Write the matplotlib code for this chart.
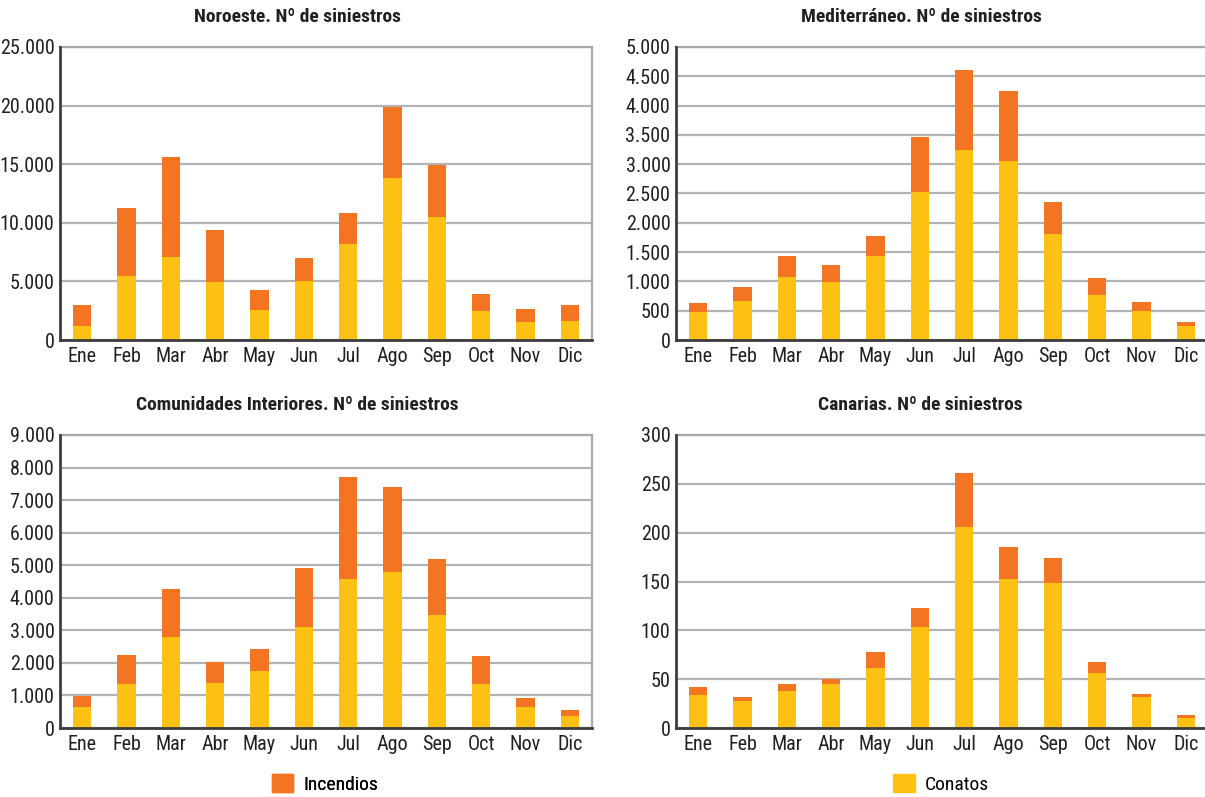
import matplotlib
matplotlib.use("Agg")
import matplotlib.pyplot as plt
import matplotlib.ticker as mticker
from matplotlib import font_manager
from matplotlib.patches import Patch
import numpy as np

# ── Fonts: pick a condensed family if one is installed ───────────────────────
available = {f.name for f in font_manager.fontManager.ttflist}
FONT = "DejaVu Sans"
for name in ["Roboto Condensed", "Liberation Sans Narrow", "DejaVu Sans Condensed", "Open Sans Condensed"]:
    if name in available:
        FONT = name
        break
plt.rcParams["font.family"] = [FONT, "DejaVu Sans"]

# ── Data ──────────────────────────────────────────────────────────────────────
MESES = ["Ene", "Feb", "Mar", "Abr", "May", "Jun", "Jul", "Ago", "Sep", "Oct", "Nov", "Dic"]

noroeste_total   = [3020, 11230, 15590, 9350, 4300, 6960, 10800, 19870, 14940, 3960, 2680, 3020]
noroeste_conatos = [1230, 5500, 7040, 4990, 2590, 5070, 8150, 13800, 10460, 2510, 1570, 1650]

medit_total   = [639, 912, 1425, 1288, 1767, 3461, 4607, 4247, 2349, 1066, 656, 314]
medit_conatos = [485, 673, 1083, 998, 1425, 2520, 3238, 3050, 1802, 775, 502, 245]

interior_total   = [984, 2235, 4264, 2019, 2419, 4910, 7708, 7401, 5187, 2204, 912, 543]
interior_conatos = [636, 1343, 2788, 1373, 1743, 3096, 4572, 4787, 3465, 1343, 636, 359]

canarias_total   = [42, 32, 45, 50, 78, 123, 261, 185, 174, 68, 35, 13]
canarias_conatos = [34, 28, 38, 45, 61, 103, 206, 153, 148, 56, 32, 10]

YELLOW = "#FDC113"
ORANGE = "#F37521"

W, H = 1205, 797
fig = plt.figure(figsize=(W / 100, H / 100), dpi=100)

panels = [
    ("Noroeste. Nº de siniestros", noroeste_total, noroeste_conatos, 25000, 5000, (60, 47), 297),
    ("Mediterráneo. Nº de siniestros", medit_total, medit_conatos, 5000, 500, (676, 47), 921),
    ("Comunidades Interiores. Nº de siniestros", interior_total, interior_conatos, 9000, 1000, (60, 435), 297),
    ("Canarias. Nº de siniestros", canarias_total, canarias_conatos, 300, 50, (676, 435), 920),
]

fmt = mticker.FuncFormatter(lambda v, _: f"{int(v):,}".replace(",", "."))

for title, total, conatos, ymax, step, (px, py), tx in panels:
    ax = fig.add_axes([px / W, 1 - (py + 293) / H, 532 / W, 293 / H])
    x = np.arange(len(MESES))
    total = np.array(total)
    conatos = np.array(conatos)
    incendios = total - conatos
    ax.bar(x, conatos, width=0.41, color=YELLOW, zorder=3)
    ax.bar(x, incendios, bottom=conatos, width=0.41, color=ORANGE, zorder=3)

    ax.set_xlim(-0.5, 11.5)
    ax.set_ylim(0, ymax)
    ax.set_yticks(np.arange(0, ymax + step / 2, step))
    ax.yaxis.set_major_formatter(fmt)
    ax.set_xticks(x)
    ax.set_xticklabels(MESES)
    ax.tick_params(axis="both", length=0, labelsize=14.5, colors="#231f20")
    ax.tick_params(axis="x", pad=5)
    ax.tick_params(axis="y", pad=4)
    ax.yaxis.grid(True, color="#b1b3b6", linewidth=1.6, zorder=0)

    for side in ["left", "bottom"]:
        ax.spines[side].set_color("#3c3c3c")
        ax.spines[side].set_linewidth(2)
        ax.spines[side].set_zorder(4)
    for side in ["top", "right"]:
        ax.spines[side].set_color("#a7a9ac")
        ax.spines[side].set_linewidth(1.6)

    fig.text(tx / W, 1 - (py - 30) / H, title, ha="center", va="center",
             fontsize=14, fontweight="bold", color="#231f20")

leg1 = fig.legend(handles=[Patch(color=ORANGE, label="Incendios")], loc="center",
                  bbox_to_anchor=(325 / W, 1 - 784 / H), frameon=False, fontsize=14,
                  handlelength=1.1, handleheight=1.0, handletextpad=0.5)
leg2 = fig.legend(handles=[Patch(color=YELLOW, label="Conatos")], loc="center",
                  bbox_to_anchor=(941 / W, 1 - 784 / H), frameon=False, fontsize=14,
                  handlelength=1.1, handleheight=1.0, handletextpad=0.5)
fig.add_artist(leg1)

fig.savefig("out.png", dpi=100, facecolor="white")
